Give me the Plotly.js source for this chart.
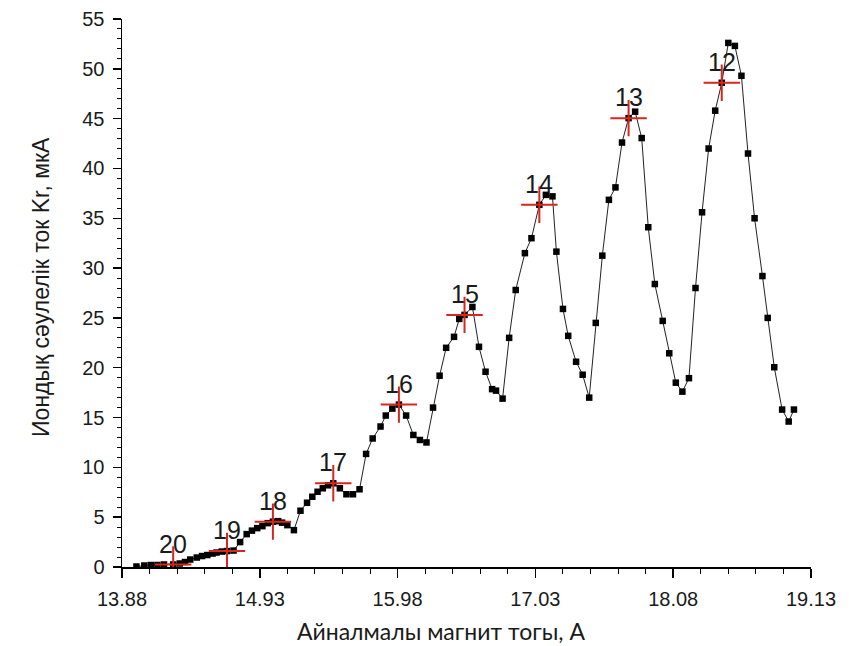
<!DOCTYPE html>
<html>
<head>
<meta charset="utf-8">
<script src="https://cdn.plot.ly/plotly-3.0.1.min.js"></script>
<style>html,body{margin:0;padding:0;background:#fff;}#chart{width:849px;height:646px;}</style>
</head>
<body>
<div id="chart"></div>
<script>
// Magnet current, A
const current = [13.99,14.05,14.10,14.15,14.20,14.27,14.32,14.36,14.40,14.45,14.49,14.53,14.57,14.60,14.64,14.68,14.73,
  14.78,14.83,14.87,14.91,14.95,14.99,15.03,15.07,15.10,15.14,15.19,15.24,15.29,15.33,15.37,15.41,15.45,15.49,
  15.54,15.59,15.64,15.69,15.74,15.79,15.85,15.89,15.94,15.99,16.045,16.10,16.15,16.20,16.25,16.30,16.35,16.41,
  16.45,16.49,16.55,16.60,16.65,16.70,16.73,16.78,16.83,16.88,16.95,17.00,17.06,17.11,17.16,17.19,17.24,17.28,
  17.34,17.39,17.44,17.49,17.54,17.59,17.64,17.69,17.74,17.79,17.84,17.89,17.94,18.00,18.05,18.10,18.15,18.20,
  18.25,18.30,18.35,18.40,18.45,18.50,18.55,18.60,18.65,18.70,18.76,18.80,18.85,18.91,18.96,19.00];
// Ion beam current, uA
const beam = [0.05,0.15,0.2,0.2,0.25,0.25,0.35,0.5,0.75,0.95,1.1,1.2,1.35,1.45,1.55,1.6,1.65,
  2.5,3.3,3.65,3.9,4.1,4.4,4.55,4.6,4.45,4.2,3.7,5.65,6.45,7.05,7.55,7.9,8.2,8.4,
  7.9,7.3,7.3,7.8,11.35,12.9,14.1,15.2,15.9,16.3,15.2,13.25,12.75,12.5,16.0,19.2,22.0,23.1,
  24.9,25.3,26.1,22.1,19.6,17.85,17.7,16.9,23.0,27.8,31.5,33.0,36.35,37.35,37.2,31.65,25.9,23.2,
  20.6,19.3,17.0,24.5,31.25,36.85,38.1,42.6,45.05,45.7,43.05,34.1,28.4,24.7,21.45,18.5,17.6,18.95,
  28.0,35.6,42.0,45.8,48.6,52.6,52.3,49.3,41.5,35.0,29.2,25.0,20.05,15.8,14.6,15.8];
// Charge-state peaks
const peakX = [14.27,14.68,15.03,15.49,15.99,16.49,17.06,17.74,18.45];
const peakY = [0.25,1.6,4.55,8.4,16.3,25.3,36.35,45.05,48.6];
const peakLabels = ['20','19','18','17','16','15','14','13','12'];
const xTicks = [13.88,14.93,15.98,17.03,18.08,19.13];
const xTitle = 'Айналмалы магнит тогы, А';
const yTitle = 'Иондық сәулелік ток Kr, мкА';

const RED = '#d8261e';
const traces = [
  {x: current, y: beam, type: 'scatter', mode: 'lines+markers',
   line: {color: '#222', width: 1},
   marker: {symbol: 'square', size: 6.5, color: '#000'},
   hoverinfo: 'skip', showlegend: false},
  {x: peakX, y: peakY, type: 'scatter', mode: 'markers',
   marker: {symbol: 'cross-thin', size: 26, color: RED, line: {color: RED, width: 2}},
   showlegend: false}
];

const annotations = peakX.map((x, i) => ({
  x: x, y: peakY[i], xref: 'x', yref: 'y', text: peakLabels[i], showarrow: false,
  yshift: 21, font: {family: 'Liberation Sans, Arial, sans-serif', size: 25, color: '#1a1a1a'}
}));
annotations.push({
  xref: 'paper', yref: 'paper', x: 0.463, y: -0.117, xanchor: 'center', yanchor: 'middle',
  text: xTitle, showarrow: false, font: {family: 'Lato, Liberation Sans, sans-serif', size: 23, color: '#1a1a1a'}
});
annotations.push({
  xref: 'paper', yref: 'paper', x: -0.1176, y: 0.511, xanchor: 'center', yanchor: 'middle', textangle: -90,
  text: yTitle, showarrow: false, font: {family: 'Liberation Sans, Arial, sans-serif', size: 23, color: '#1a1a1a'}
});

const layout = {
  width: 849, height: 646,
  margin: {l: 122, r: 38, t: 19, b: 79},
  paper_bgcolor: '#fff', plot_bgcolor: '#fff',
  showlegend: false,
  font: {family: 'Liberation Sans, Arial, sans-serif', color: '#1a1a1a'},
  xaxis: {
    range: [13.88, 19.13], tickvals: xTicks, ticktext: xTicks.map(v => v.toFixed(2)),
    showgrid: false, zeroline: false, showline: true, linecolor: '#000', linewidth: 1.5,
    ticks: 'outside', ticklen: 9, tickwidth: 1.5, tickcolor: '#000',
    minor: {tick0: 13.88, dtick: 0.21, ticks: 'outside', ticklen: 5, tickwidth: 1, tickcolor: '#000', showgrid: false},
    tickfont: {size: 20, color: '#1a1a1a'}, ticklabelstandoff: 4
  },
  yaxis: {
    range: [0, 55], tick0: 0, dtick: 5,
    showgrid: false, zeroline: false, showline: true, linecolor: '#000', linewidth: 1.5,
    ticks: 'outside', ticklen: 8, tickwidth: 1.5, tickcolor: '#000',
    minor: {dtick: 1, ticks: 'outside', ticklen: 4, tickwidth: 1, tickcolor: '#000', showgrid: false},
    tickfont: {size: 20, color: '#1a1a1a'}, ticklabelstandoff: 4
  },
  annotations: annotations
};

Plotly.newPlot('chart', traces, layout, {displayModeBar: false, staticPlot: true});
</script>
</body>
</html>
